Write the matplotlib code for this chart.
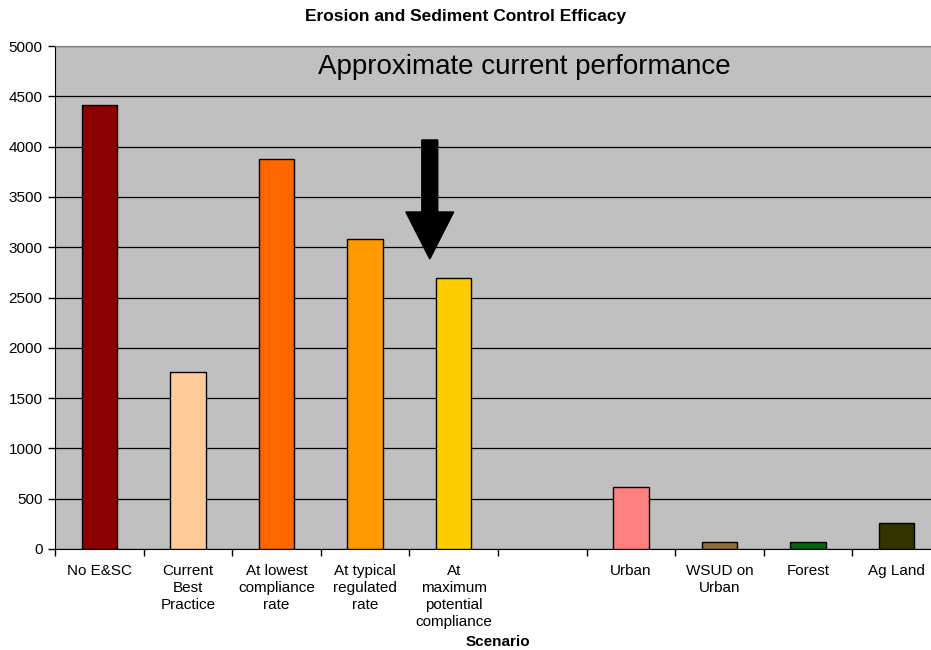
import matplotlib
matplotlib.use("Agg")
import matplotlib.pyplot as plt
import numpy as np

plt.rcParams['font.family'] = ['Liberation Sans', 'DejaVu Sans']

categories = ["No E&SC", "Current\nBest\nPractice", "At lowest\ncompliance\nrate",
              "At typical\nregulated\nrate", "At\nmaximum\npotential\ncompliance", "",
              "Urban", "WSUD on\nUrban", "Forest", "Ag Land"]
values = [4410, 1760, 3880, 3080, 2690, np.nan, 620, 65, 73, 260]
colors = ["#8B0000", "#FFCC99", "#FF6600", "#FF9900", "#FFCC00", "#C0C0C0",
          "#FF8080", "#8F6D3A", "#006411", "#333300"]
yticks = [0, 500, 1000, 1500, 2000, 2500, 3000, 3500, 4000, 4500, 5000]

# arrow marking the current performance level (data coordinates)
arrow_x = 3.73
arrow_top = 4066
arrow_tip = 2883

fig = plt.figure(figsize=(9.31, 6.5), dpi=100)
ax = fig.add_axes([55 / 931, 1 - 549 / 650, 886 / 931, 503 / 650])
ax.set_facecolor("#C0C0C0")

x = np.arange(len(categories))
ax.bar(x, values, width=0.4, color=colors, edgecolor="black", linewidth=1.0, zorder=3)

ax.set_xlim(-0.5, len(categories) - 0.5)
ax.set_ylim(0, 5000)
ax.set_yticks(yticks)
ax.set_yticklabels([str(v) for v in yticks], fontsize=11)
ax.yaxis.grid(True, color="black", linewidth=0.9, zorder=1)
ax.set_axisbelow(True)

ax.set_xticks(x)
ax.set_xticklabels(categories, fontsize=11, linespacing=1.27)
ax.tick_params(axis="x", length=0, pad=11)
ax.set_xticks(np.arange(-0.5, len(categories), 1.0), minor=True)
ax.tick_params(axis="x", which="minor", length=5, width=1, color="black", direction="out")
ax.tick_params(axis="y", length=5, width=1, direction="out", pad=4)

ax.spines["right"].set_visible(False)
ax.spines["top"].set_color("#808080")
ax.spines["left"].set_color("black")
ax.spines["bottom"].set_color("black")

ax.arrow(arrow_x, arrow_top, 0, arrow_tip - arrow_top, width=0.18, head_width=0.54,
         head_length=467, length_includes_head=True, color="black", zorder=4)

ax.text(4.80, 4790, "Approximate current performance", fontsize=20, ha="center",
        va="center", zorder=5)

fig.text(466 / 931, 1 - 17 / 650, "Erosion and Sediment Control Efficacy",
         fontsize=12.5, fontweight="bold", ha="center", va="center")
fig.text(498 / 931, 1 - 642 / 650, "Scenario", fontsize=11, fontweight="bold",
         ha="center", va="center")

fig.savefig("out.png", dpi=100)
